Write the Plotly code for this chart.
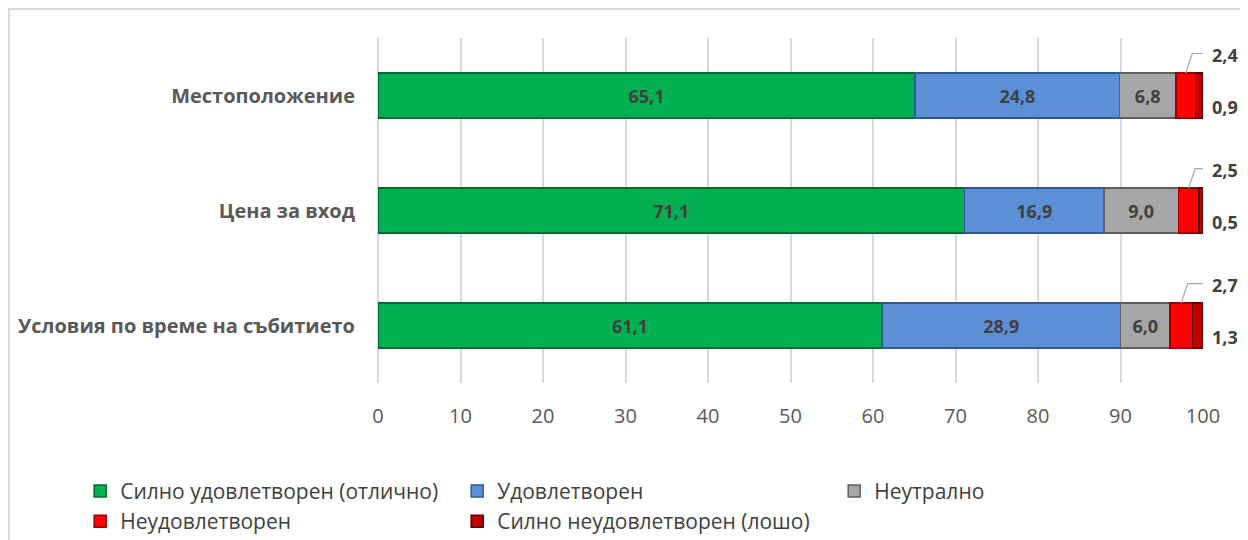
import plotly.graph_objects as go

categories = ["Условия по време на събитието", "Цена за вход", "Местоположение"]
series_names = ["Силно удовлетворен (отлично)", "Удовлетворен", "Неутрално",
                "Неудовлетворен", "Силно неудовлетворен (лошо)"]
excellent = [61.1, 71.1, 65.1]
satisfied = [28.9, 16.9, 24.8]
neutral = [6.0, 9.0, 6.8]
unsatisfied = [2.7, 2.5, 2.4]
very_unsatisfied = [1.3, 0.5, 0.9]
x_ticks = [0, 10, 20, 30, 40, 50, 60, 70, 80, 90, 100]

series = [excellent, satisfied, neutral, unsatisfied, very_unsatisfied]
colors = ["#00B050", "#5B8FD6", "#A6A6A6", "#FF0000", "#C00000"]
edges = ["#006B30", "#2F5A94", "#5E5E5E", "#9A0000", "#600000"]

FONT = "Open Sans"
ypos = list(range(len(categories)))
BAR_W = 0.39
X_MAX = 100

fig = go.Figure()
for i, (name, vals) in enumerate(zip(series_names, series)):
    show_text = i < 3
    fig.add_trace(go.Bar(
        name=name, y=ypos, x=vals, orientation="h", width=BAR_W,
        marker=dict(color=colors[i], line=dict(color=edges[i], width=1.5)),
        texttemplate="<b>%{x:.1f}</b>" if show_text else None,
        textposition="inside" if show_text else "none",
        insidetextanchor="middle",
        textfont=dict(family=FONT, size=18, color="#404040"),
        hoverinfo="x+name",
    ))

annotations = []
for k in ypos:
    start_red = excellent[k] + satisfied[k] + neutral[k]
    red_mid = start_red + unsatisfied[k] / 2
    top = k + BAR_W / 2
    fig.add_trace(go.Scatter(
        x=[red_mid, red_mid + 0.8, X_MAX + 0.1], y=[top, k + 0.365, k + 0.365],
        mode="lines", line=dict(color="#A6A6A6", width=1.2),
        showlegend=False, hoverinfo="skip", cliponaxis=False,
    ))
    annotations.append(dict(
        x=1.009, y=k + 0.35, xref="paper", yref="y", xanchor="left", showarrow=False,
        text="<b>%s</b>" % f"{unsatisfied[k]:.1f}".replace(".", ","),
        font=dict(family=FONT, size=18, color="#404040")))
    annotations.append(dict(
        x=1.009, y=k - 0.10, xref="paper", yref="y", xanchor="left", showarrow=False,
        text="<b>%s</b>" % f"{very_unsatisfied[k]:.1f}".replace(".", ","),
        font=dict(family=FONT, size=18, color="#404040")))

fig.update_layout(
    barmode="stack",
    separators=", ",
    width=1240, height=532,
    margin=dict(l=370, r=45, t=30, b=157, autoexpand=False),
    paper_bgcolor="white", plot_bgcolor="white",
    font=dict(family=FONT, color="#595959"),
    xaxis=dict(range=[0, X_MAX], tickvals=x_ticks, showgrid=True,
               gridcolor="#D9D9D9", gridwidth=1.5, zeroline=True,
               zerolinecolor="#D9D9D9", zerolinewidth=1.5,
               tickfont=dict(family=FONT, size=20, color="#595959"),
               ticks="", ticklabelstandoff=19, fixedrange=True),
    yaxis=dict(range=[-0.5, 2.5], tickvals=ypos,
               ticktext=["<b>%s</b>" % c for c in categories],
               tickfont=dict(family=FONT, size=20, color="#595959"),
               showgrid=False, zeroline=False, ticks="", ticklabelstandoff=22,
               fixedrange=True),
    legend=dict(orientation="h", xref="paper", yref="paper",
                x=-0.361, y=-0.2545, xanchor="left", yanchor="top",
                entrywidth=332, entrywidthmode="pixels", traceorder="normal",
                font=dict(family=FONT, size=21, color="#404040"),
                itemwidth=30, tracegroupgap=0, itemclick=False),
    showlegend=True,
    annotations=annotations,
    shapes=[dict(type="rect", xref="paper", yref="paper",
                 x0=-0.4473, x1=1.2, y0=-0.6, y1=1.084,
                 line=dict(color="#D9D9D9", width=2), layer="below")],
)

fig.write_html("out.html")
